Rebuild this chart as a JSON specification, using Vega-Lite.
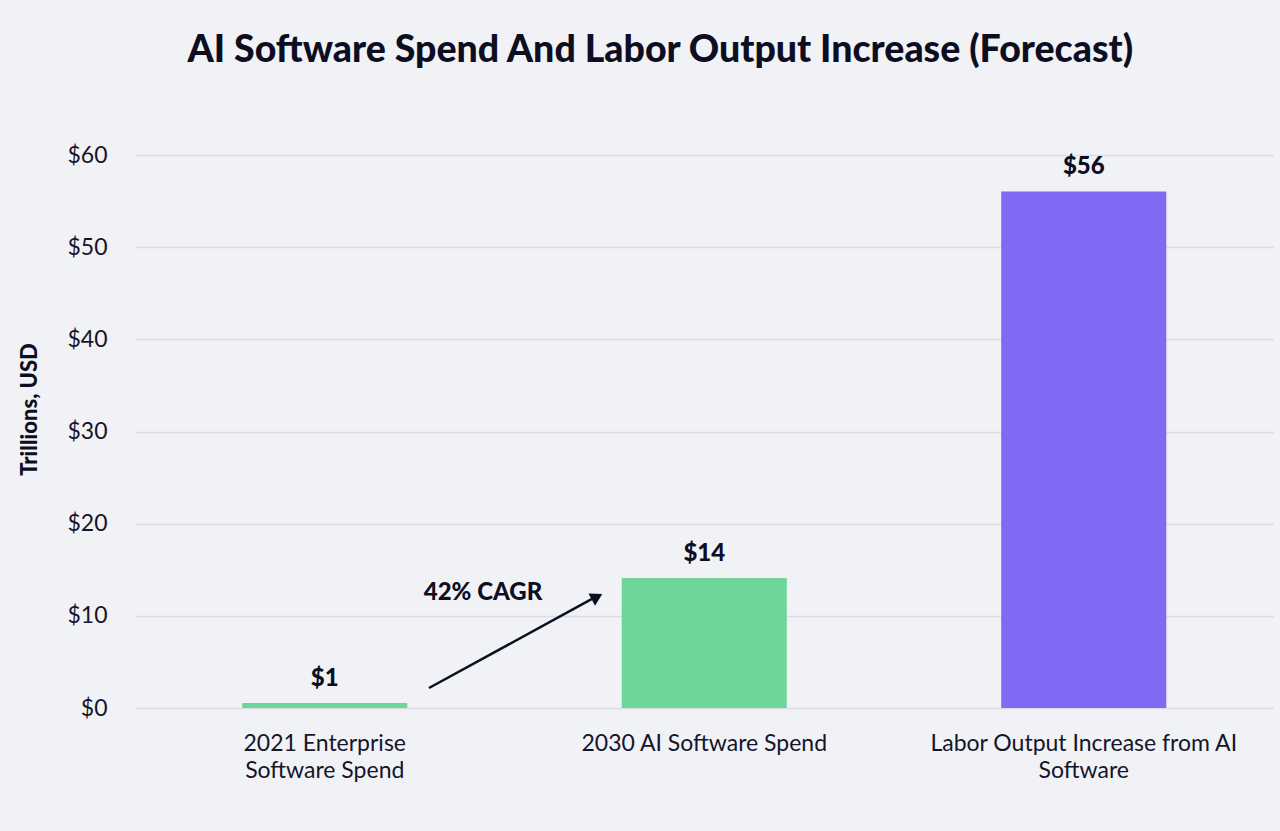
{
  "$schema": "https://vega.github.io/schema/vega-lite/v6.json",
  "autosize": "none",
  "width": 1138.5,
  "height": 553,
  "padding": {"left": 135, "top": 155, "right": 6.5, "bottom": 123},
  "background": "#f1f2f6",
  "config": {
    "view": {"stroke": null},
    "font": "Lato"
  },
  "title": {
    "text": "AI Software Spend And Labor Output Increase (Forecast)",
    "font": "Lato",
    "fontSize": 37.5,
    "fontWeight": 900,
    "color": "#0e0e23",
    "anchor": "middle",
    "frame": "group",
    "dx": -44,
    "offset": 75
  },
  "datasets": {
    "bars": [
      {"category": "2021 Enterprise Software Spend", "value": 0.55, "label": "$1", "group": "spend"},
      {"category": "2030 AI Software Spend", "value": 14.1, "label": "$14", "group": "spend"},
      {"category": "Labor Output Increase from AI Software", "value": 56.05, "label": "$56", "group": "labor"}
    ],
    "arrow": [
      {"px": 0.7747, "py": 2.17, "ord": 0},
      {"px": 1.2042, "py": 11.83, "ord": 1}
    ],
    "head": [
      {"px": 1.2174, "py": 12.07}
    ],
    "note": [
      {"px": 0.917, "py": 12.47, "text": "42% CAGR"}
    ]
  },
  "layer": [
    {
      "data": {"name": "bars"},
      "layer": [
        {
          "mark": {"type": "bar"},
          "encoding": {
            "x": {
              "field": "category",
              "type": "nominal",
              "sort": null,
              "scale": {"paddingInner": 0.565, "paddingOuter": 0.2825},
              "axis": {
                "title": null,
                "labelAngle": 0,
                "labelFont": "Lato",
                "labelFontSize": 23,
                "labelColor": "#15152b",
                "labelPadding": 24,
                "labelLineHeight": 27,
                "labelBaseline": "top",
                "labelLimit": 0,
                "ticks": false,
                "domain": false,
                "grid": false,
                "labelExpr": "datum.value == '2021 Enterprise Software Spend' ? ['2021 Enterprise', 'Software Spend'] : datum.value == 'Labor Output Increase from AI Software' ? ['Labor Output Increase from AI', 'Software'] : datum.value"
              }
            },
            "y": {
              "field": "value",
              "type": "quantitative",
              "scale": {"domain": [0, 60], "nice": false},
              "axis": {
                "title": "Trillions, USD",
                "titleFont": "Lato",
                "titleFontSize": 22,
                "titleFontWeight": 900,
                "titleColor": "#0e0e23",
                "titleAngle": -90,
                "titleX": -106,
                "titleY": 254,
                "titleAlign": "center",
                "titleBaseline": "middle",
                "values": [0, 10, 20, 30, 40, 50, 60],
                "labelExpr": "'$' + datum.value",
                "labelFont": "Lato",
                "labelFontSize": 23,
                "labelColor": "#15152b",
                "labelPadding": 28,
                "ticks": false,
                "domain": false,
                "gridColor": "#dcdde3",
                "gridWidth": 1.5
              }
            },
            "color": {
              "field": "group",
              "type": "nominal",
              "scale": {"domain": ["spend", "labor"], "range": ["#6fd69b", "#7f6af6"]},
              "legend": null
            }
          }
        },
        {
          "mark": {"type": "text", "baseline": "bottom", "dy": -12, "font": "Lato", "fontSize": 24, "fontWeight": 900, "color": "#0e0e23"},
          "encoding": {
            "x": {"field": "category", "type": "nominal", "sort": null},
            "y": {"field": "value", "type": "quantitative"},
            "text": {"field": "label"}
          }
        }
      ]
    },
    {
      "data": {"name": "arrow"},
      "mark": {"type": "line", "color": "#0e0e23", "strokeWidth": 2.5},
      "encoding": {
        "x": {"field": "px", "type": "quantitative", "scale": {"domain": [0, 3], "nice": false, "zero": false}, "axis": null},
        "y": {"field": "py", "type": "quantitative"},
        "order": {"field": "ord"}
      }
    },
    {
      "data": {"name": "head"},
      "mark": {"type": "point", "shape": "triangle-up", "filled": true, "opacity": 1, "color": "#0e0e23", "size": 190, "angle": 61.5},
      "encoding": {
        "x": {"field": "px", "type": "quantitative", "scale": {"domain": [0, 3], "nice": false, "zero": false}, "axis": null},
        "y": {"field": "py", "type": "quantitative"}
      }
    },
    {
      "data": {"name": "note"},
      "mark": {"type": "text", "align": "center", "baseline": "middle", "font": "Lato", "fontSize": 24, "fontWeight": 900, "color": "#0e0e23"},
      "encoding": {
        "x": {"field": "px", "type": "quantitative", "scale": {"domain": [0, 3], "nice": false, "zero": false}, "axis": null},
        "y": {"field": "py", "type": "quantitative"},
        "text": {"field": "text"}
      }
    }
  ],
  "resolve": {"scale": {"x": "independent"}}
}
